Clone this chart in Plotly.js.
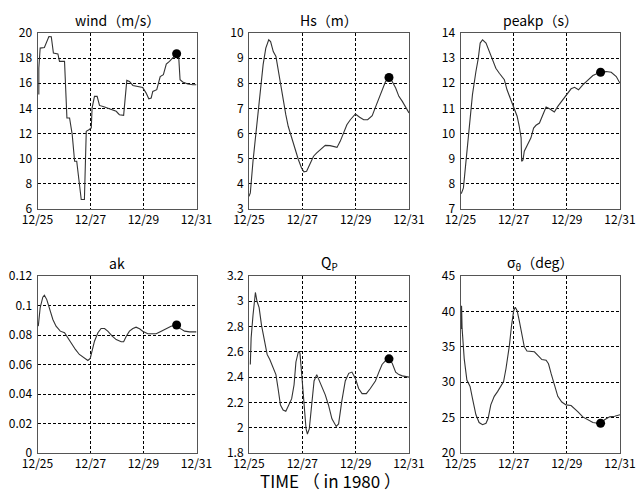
<!DOCTYPE html>
<html>
<head>
<meta charset="utf-8">
<script src="https://cdn.plot.ly/plotly-3.0.1.min.js"></script>
<style>html,body{margin:0;padding:0;background:#fff;}#chart{width:638px;height:492px;}</style>
</head>
<body>
<div id="chart"></div>
<script>
// time in days since 12/25 00:00 (1980)
const tickDays = [0, 2, 4, 6];
const tickLabels = ['12/25', '12/27', '12/29', '12/31'];

const windT = [0.05,0.05,0.10,0.26,0.43,0.52,0.60,0.77,0.83,1.02,1.11,1.21,1.31,1.40,1.48,1.65,1.77,1.84,1.94,2.03,2.06,2.15,2.25,2.34,2.53,2.97,3.09,3.25,3.37,3.47,3.60,3.97,4.10,4.20,4.29,4.35,4.50,4.63,4.75,4.86,4.98,5.11,5.25,5.32,5.38,5.48,5.67,5.86,6.0];
const windV = [15.1,17.2,18.8,18.85,19.72,19.7,18.4,18.34,17.74,17.74,13.24,13.24,11.92,9.8,9.8,6.76,6.76,12.18,12.31,12.44,14.03,14.96,14.96,14.24,14.11,13.77,13.5,13.45,16.23,16.15,15.83,15.67,15.22,14.77,14.83,15.35,15.49,16.54,16.68,17.52,17.74,18.0,18.35,18.4,16.28,16.1,15.94,15.88,15.88];

const hsT = [0.0,0.05,0.15,0.28,0.40,0.53,0.63,0.74,0.81,0.91,1.01,1.16,1.28,1.38,1.47,1.60,1.72,1.85,1.97,2.06,2.16,2.29,2.42,2.54,2.67,2.86,3.04,3.17,3.30,3.42,3.55,3.67,3.80,3.99,4.15,4.30,4.45,4.62,4.74,4.87,4.99,5.12,5.25,5.37,5.50,5.62,5.75,5.87,6.0];
const hsV = [3.5,3.64,4.9,6.22,7.54,8.74,9.4,9.73,9.66,9.26,9.07,8.07,7.28,6.75,6.29,5.83,5.43,4.97,4.63,4.48,4.50,4.77,5.1,5.23,5.36,5.53,5.52,5.47,5.45,5.69,6.02,6.35,6.55,6.78,6.65,6.55,6.55,6.71,7.04,7.41,7.78,8.07,8.23,8.07,7.81,7.48,7.28,7.08,6.82];

const peakT = [0.0,0.04,0.11,0.20,0.33,0.45,0.58,0.67,0.74,0.83,0.96,1.08,1.21,1.33,1.46,1.65,1.75,1.87,2.0,2.13,2.21,2.28,2.30,2.35,2.40,2.53,2.65,2.75,2.84,2.97,3.09,3.22,3.35,3.53,3.66,3.85,3.97,4.16,4.29,4.44,4.60,4.79,4.98,5.17,5.25,5.48,5.67,5.86,6.0];
const peakV = [7.6,7.64,7.84,8.9,10.1,11.55,12.47,13.0,13.6,13.73,13.6,13.26,12.93,12.6,12.4,12.14,11.74,11.41,11.12,10.69,10.29,9.83,8.9,8.95,9.3,9.56,9.83,10.22,10.33,10.42,10.75,11.06,10.99,10.86,11.08,11.35,11.55,11.78,11.84,11.74,11.94,12.14,12.31,12.40,12.44,12.47,12.44,12.27,12.0];

const akT = [0.03,0.05,0.10,0.20,0.26,0.35,0.45,0.58,0.70,0.86,1.02,1.14,1.27,1.43,1.58,1.77,1.90,1.99,2.06,2.15,2.28,2.40,2.53,2.65,2.82,2.97,3.16,3.25,3.35,3.47,3.60,3.72,3.85,3.97,4.16,4.29,4.48,4.67,4.86,5.04,5.25,5.38,5.55,5.74,6.0];
const akV = [0.086,0.0894,0.0984,0.1056,0.107,0.104,0.0973,0.0905,0.086,0.0826,0.0815,0.0781,0.0747,0.0702,0.0668,0.0641,0.0627,0.0641,0.069,0.0758,0.0815,0.0844,0.0844,0.0826,0.0792,0.0769,0.0754,0.0754,0.0792,0.0826,0.0844,0.0853,0.0842,0.0826,0.0808,0.0808,0.0808,0.0826,0.0844,0.086,0.0868,0.0845,0.0826,0.0821,0.0821];

const qpT = [0.05,0.08,0.15,0.24,0.30,0.38,0.47,0.59,0.68,0.78,0.88,1.01,1.09,1.18,1.28,1.38,1.47,1.60,1.69,1.76,1.85,1.91,1.97,2.06,2.14,2.19,2.26,2.35,2.44,2.54,2.64,2.73,2.86,2.98,3.11,3.27,3.36,3.48,3.61,3.74,3.86,3.99,4.11,4.24,4.40,4.55,4.74,4.87,4.99,5.12,5.25,5.37,5.50,5.62,5.75,6.0];
const qpV = [2.50,2.71,2.89,3.07,3.0,2.95,2.81,2.68,2.58,2.54,2.48,2.42,2.31,2.18,2.14,2.13,2.17,2.23,2.34,2.52,2.60,2.59,2.44,2.18,1.99,1.95,1.99,2.18,2.37,2.42,2.37,2.31,2.26,2.18,2.07,2.01,2.03,2.21,2.37,2.43,2.44,2.39,2.31,2.27,2.27,2.31,2.37,2.44,2.50,2.53,2.545,2.51,2.44,2.42,2.41,2.40];

const sigT = [0.03,0.04,0.06,0.14,0.24,0.36,0.45,0.58,0.70,0.83,0.96,1.04,1.14,1.27,1.40,1.52,1.62,1.71,1.84,1.92,2.0,2.06,2.13,2.21,2.31,2.40,2.50,2.65,2.78,2.91,3.06,3.22,3.31,3.41,3.53,3.66,3.81,3.97,4.16,4.29,4.42,4.60,4.79,4.98,5.17,5.27,5.42,5.61,5.80,6.0];
const sigV = [37.5,40.8,37.6,33.3,30.3,29.4,27.7,25.4,24.3,24.0,24.2,24.9,26.8,28.0,28.7,29.4,30.1,31.9,35.2,38.0,40.1,40.6,40.1,38.7,36.6,35.0,34.4,34.4,34.3,33.8,33.2,33.1,32.6,31.2,29.6,28.0,27.2,26.8,26.7,26.3,25.8,25.1,24.7,24.3,24.2,24.2,24.7,25.1,25.2,25.4];

// highlighted point (black dot)
const dotT = [5.25, 5.25, 5.27, 5.25, 5.25, 5.27];
const dotV = [18.35, 8.23, 12.44, 0.0868, 2.545, 24.2];

const titles = ['wind（m/s）', 'Hs（m）', 'peakp（s）', 'ak', 'Q<sub>P</sub>', 'σ<sub>θ</sub>（deg）'];
const yRanges = [[6, 20], [3, 10], [7, 14], [0, 0.12], [1.8, 3.2], [20, 45]];
const yDticks = [2, 1, 1, 0.02, 0.2, 5];
const xTitle = 'TIME （ in 1980 ）';

const seriesT = [windT, hsT, peakT, akT, qpT, sigT];
const seriesV = [windV, hsV, peakV, akV, qpV, sigV];

const W = 638, H = 492;
const colPx = [[37.5, 196.5], [249, 409], [460.5, 620]];
const rowPx = [[33, 209], [276, 453]];
const titleY = [20, 263];
const FONT = '"Noto Sans CJK JP", "DejaVu Sans", sans-serif';

const traces = [];
const layout = {
  width: W, height: H,
  margin: {l: 0, r: 0, t: 0, b: 0},
  paper_bgcolor: '#fff', plot_bgcolor: '#fff',
  showlegend: false,
  font: {family: FONT, size: 12, color: '#000'},
  annotations: []
};

for (let i = 0; i < 6; i++) {
  const r = Math.floor(i / 3), c = i % 3;
  const n = i + 1;
  const xa = n === 1 ? 'x' : 'x' + n;
  const ya = n === 1 ? 'y' : 'y' + n;
  traces.push({
    x: seriesT[i], y: seriesV[i], xaxis: xa, yaxis: ya,
    type: 'scatter', mode: 'lines',
    line: {color: '#333', width: 1.1},
    hoverinfo: 'skip'
  });
  traces.push({
    x: [dotT[i]], y: [dotV[i]], xaxis: xa, yaxis: ya,
    type: 'scatter', mode: 'markers',
    marker: {color: '#000', size: 9},
    hoverinfo: 'skip'
  });
  const axCommon = {
    showline: true, mirror: true, linecolor: '#555', linewidth: 1,
    showgrid: true, gridcolor: '#000', gridwidth: 1, griddash: '3px,2px',
    zeroline: false, ticks: '', fixedrange: true,
    tickfont: {family: FONT, size: 12, color: '#000'}
  };
  layout['xaxis' + (n === 1 ? '' : n)] = Object.assign({}, axCommon, {
    domain: [colPx[c][0] / W, colPx[c][1] / W],
    anchor: ya,
    range: [0, 6],
    tickmode: 'array', tickvals: tickDays, ticktext: tickLabels,
    ticklabelstandoff: 0
  });
  layout['yaxis' + (n === 1 ? '' : n)] = Object.assign({}, axCommon, {
    domain: [1 - rowPx[r][1] / H, 1 - rowPx[r][0] / H],
    anchor: xa,
    range: yRanges[i],
    tick0: yRanges[i][0], dtick: yDticks[i],
    ticklabelstandoff: 2
  });
  layout.annotations.push({
    text: titles[i], xref: 'paper', yref: 'paper',
    x: (colPx[c][0] + colPx[c][1]) / 2 / W, y: 1 - titleY[r] / H,
    xanchor: 'center', yanchor: 'middle', showarrow: false,
    font: {family: FONT, size: 14, color: '#000'}
  });
}
layout.annotations.push({
  text: xTitle, xref: 'paper', yref: 'paper',
  x: 330 / W, y: 1 - 480 / H, xanchor: 'center', yanchor: 'middle',
  showarrow: false, font: {family: FONT, size: 17, color: '#000'}
});

Plotly.newPlot('chart', traces, layout, {staticPlot: true, displayModeBar: false});
</script>
</body>
</html>
